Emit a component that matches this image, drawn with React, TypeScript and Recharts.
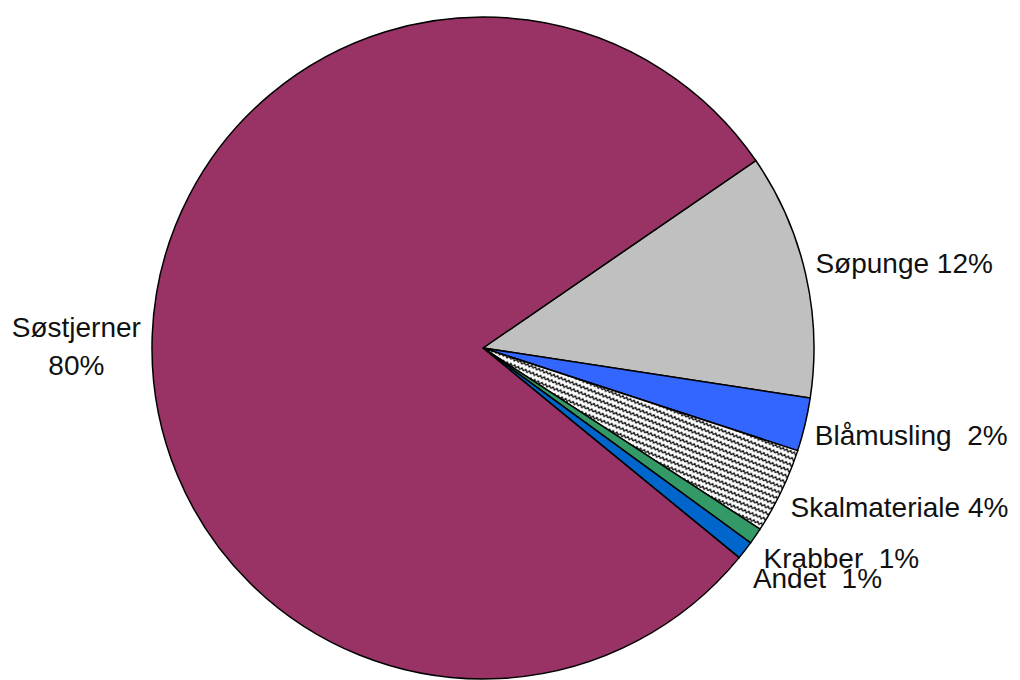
import { Cell, Pie, PieChart } from 'recharts'

// clockwise from the top edge of Søpunge
const names = ['Søpunge', 'Blåmusling', 'Skalmateriale', 'Krabber', 'Andet', 'Søstjerner']
const shares = [12, 2.6, 4.2, 0.8, 0.9, 79.5]
const pctLabels = ['12%', '2%', '4%', '1%', '1%', '80%']
const fills = ['#c0c0c0', '#3366ff', 'url(#wave)', '#339966', '#0066cc', '#993366']

const data = names.map((name, i) => ({ name, value: shares[i], pct: pctLabels[i] }))

// small per-slice nudges so the labels sit like the original
const nudgeY = [-8, 9, 12, 17, 22, 0]
const gap = [' ', '  ', ' ', '  ', '  ', '']

const RAD = Math.PI / 180

function renderLabel(p: any) {
  const { cx, cy, midAngle, outerRadius, index } = p
  const cos = Math.cos(-midAngle * RAD)
  const sin = Math.sin(-midAngle * RAD)
  const d = data[index]
  if (cos < 0) {
    const x = cx + (outerRadius + 76) * cos
    const y = cy + (outerRadius + 76) * sin
    return (
      <text x={x} y={y} textAnchor="middle" fill="#111" fontSize={28}
        fontFamily="'Liberation Sans', Arial, sans-serif">
        <tspan x={x} dy={6}>{d.name}</tspan>
        <tspan x={x} dy={38}>{d.pct}</tspan>
      </text>
    )
  }
  const x = cx + (outerRadius + 10) * cos
  const y = cy + (outerRadius + 10) * sin + nudgeY[index]
  return (
    <text x={x} y={y} textAnchor="start" dominantBaseline="central" fill="#111"
      fontSize={28} fontFamily="'Liberation Sans', Arial, sans-serif" style={{ whiteSpace: 'pre' }}>
      {d.name + gap[index] + d.pct}
    </text>
  )
}

export default function App() {
  return (
    <div style={{ position: 'absolute', left: 0, top: 0, width: 1020, height: 680, background: '#fff', overflow: 'hidden' }}>
      <PieChart width={1020} height={680} margin={{ top: 0, right: 0, bottom: 0, left: 0 }}>
        <defs>
          <pattern id="wave" width={8} height={6} patternUnits="userSpaceOnUse" patternTransform="rotate(22)">
            <rect width={8} height={6} fill="#fff" />
            <path d="M0 4 L2 1.5 L4 4 L6 1.5 L8 4" fill="none" stroke="#000" strokeWidth={1.2} />
          </pattern>
        </defs>
        <Pie
          data={data}
          dataKey="value"
          cx={483}
          cy={348}
          outerRadius={331}
          startAngle={34.5}
          endAngle={-325.5}
          stroke="#000"
          strokeWidth={1.5}
          label={renderLabel}
          labelLine={false}
          isAnimationActive={false}
        >
          {data.map((d, i) => (
            <Cell key={d.name} fill={fills[i]} />
          ))}
        </Pie>
      </PieChart>
    </div>
  )
}
